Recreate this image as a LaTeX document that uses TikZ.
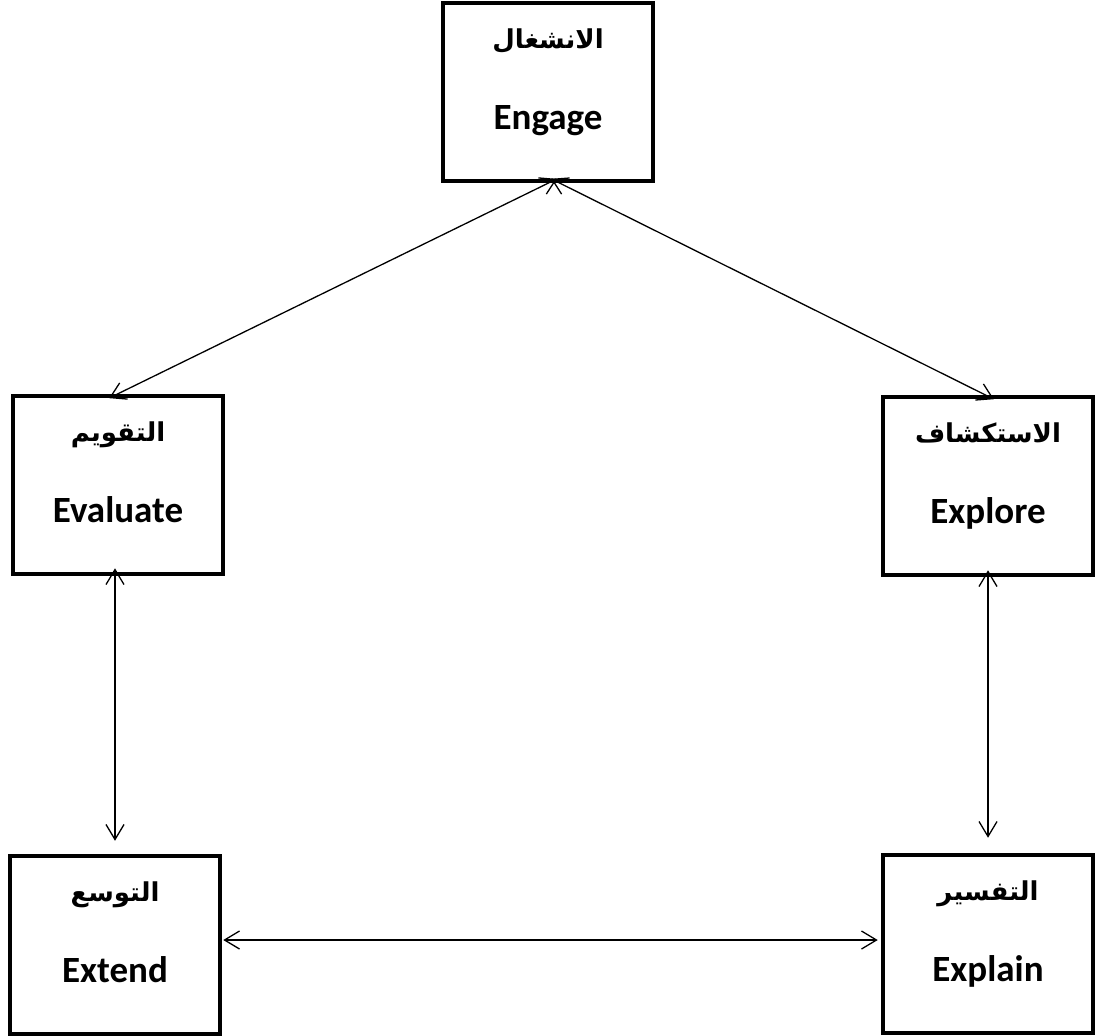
\documentclass[tikz,border=0pt]{standalone}
\usepackage{fontspec}
\setmainfont{Carlito}
\newfontfamily\arabicfont[Script=Arabic]{DejaVu Sans}
\TeXXeTstate=1
\usepackage{tikz}
\usetikzlibrary{positioning,calc,arrows.meta}

% two lines of a stage: arabic name above, english name below
\newcommand{\stagetext}[2]{%
  \parbox[c][170pt][t]{200pt}{\centering\baselineskip=81pt\lineskiplimit=-200pt
    \rule{0pt}{41pt}{\arabicfont\bfseries\fontsize{26}{30}\selectfont\beginR #1\endR}\par
    {\bfseries\fontsize{37}{42}\selectfont #2}\par}}

\tikzset{
  stage/.style={draw, line width=4.5pt, rectangle, minimum width=210pt,
    minimum height=178pt, inner sep=0pt},
  link/.style={{Straight Barb[length=15pt,width=18pt]}-{Straight Barb[length=15pt,width=18pt]},
    line width=1.3pt}
}

\begin{document}
\begin{tikzpicture}[x=1pt,y=-1pt]
    \useasboundingbox (0,0) rectangle (1095,1036);

    \node[stage] (engage) at (548,92) {\stagetext{الانشغال}{Engage}};
    \node[stage] (evaluate) at (118,485) {\stagetext{التقويم}{Evaluate}};
    \node[stage] (explore) at (988,486) {\stagetext{الاستكشاف}{Explore}};
    \node[stage] (extend) at (115,945) {\stagetext{التوسع}{Extend}};
    \node[stage] (explain) at (988,944) {\stagetext{التفسير}{Explain}};

    \draw[link, shorten <=-10pt, shorten >=-10pt] (engage.south) -- (evaluate.north);
    \draw[link, shorten <=-10pt, shorten >=-10pt] ([xshift=12pt]engage.south) -- ([xshift=-3pt]explore.north);
    \draw[link, shorten <=-8pt, shorten >=13pt] ([xshift=-3pt]evaluate.south) -- (extend.north);
    \draw[link, shorten <=-7pt, shorten >=15pt] (explore.south) -- (explain.north);
    \draw[link, shorten <=1pt, shorten >=3pt] ([yshift=5pt]extend.east) -- ([yshift=4pt]explain.west);
\end{tikzpicture}
\end{document}
